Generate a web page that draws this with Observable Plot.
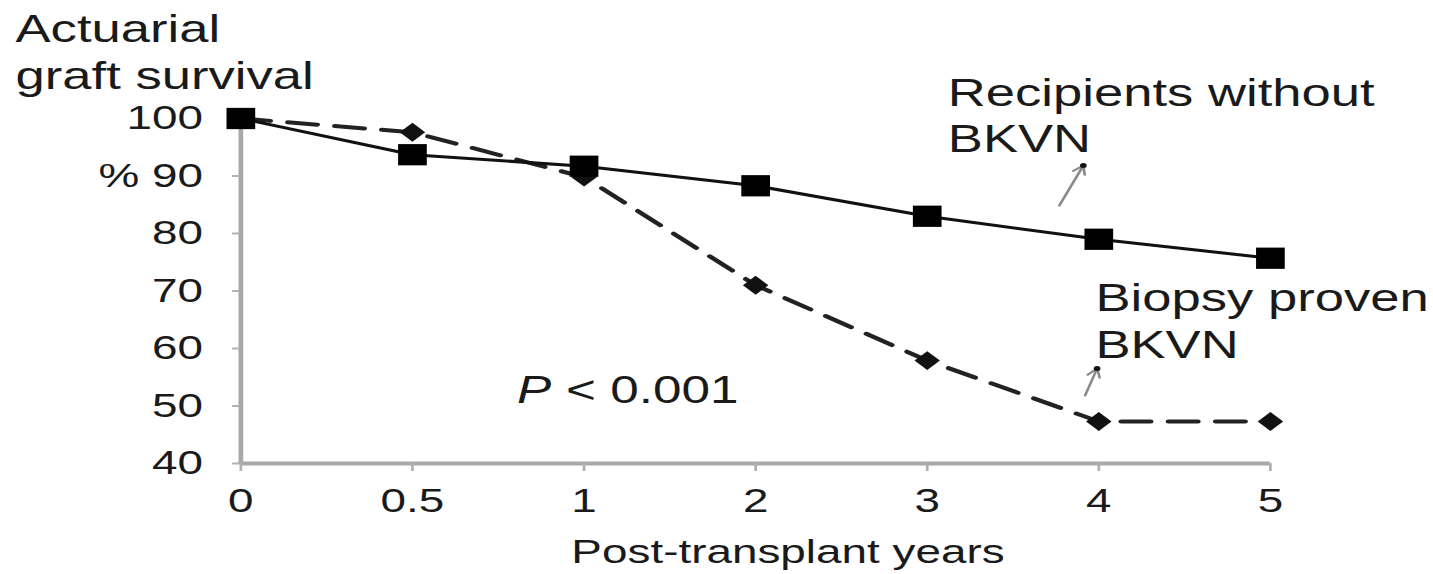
<!DOCTYPE html>
<html><head><meta charset="utf-8">
<script src="https://cdn.jsdelivr.net/npm/d3@7"></script>
<script src="https://cdn.jsdelivr.net/npm/@observablehq/plot@0.6"></script>
<style>html,body{margin:0;padding:0;background:#fff;overflow:hidden}</style>
</head><body><div id="chart"></div>
<script>
// ---- data ----
const years = ["0", "0.5", "1", "2", "3", "4", "5"];
const withoutBKVN = [100, 93.7, 91.7, 88.3, 83.0, 79.0, 75.7];
const biopsyBKVN = [100, 97.6, 89.8, 71.0, 57.9, 47.3, 47.3];
const yTicks = [40, 50, 60, 70, 80, 90, 100];

const solid = years.map((yr, i) => ({i, year: yr, value: withoutBKVN[i]}));
const dashed = years.map((yr, i) => ({i, year: yr, value: biopsyBKVN[i]}));

// the reference is horizontally stretched; draw at natural width, then stretch the SVG
const W = 1062, H = 574, OUT_W = 1433;
const ink = "#1a1a1a";
const font = "'Liberation Sans', Arial, Helvetica, sans-serif";

const plot = Plot.plot({
  width: W, height: H,
  marginLeft: 178, marginRight: 121, marginTop: 118, marginBottom: 111,
  style: {fontFamily: font, fontSize: "34px", color: ink, background: "#fff"},
  x: {type: "linear", domain: [0, years.length - 1]},
  y: {domain: [40, 100]},
  marks: [
    Plot.ruleX([0], {stroke: "#a8a8a8", strokeWidth: 3.5}),
    Plot.ruleY([40], {stroke: "#a8a8a8", strokeWidth: 4}),
    Plot.axisX({ticks: years.map((_, i) => i), tickFormat: i => years[i], tickSize: 8, tickPadding: 16,
                stroke: "#b0b0b0", strokeWidth: 2, label: null, fontSize: 34}),
    Plot.axisY({ticks: yTicks, tickFormat: d => d === 90 ? "% 90" : String(d), tickSize: 6, tickPadding: 22,
                stroke: "#b0b0b0", strokeWidth: 2, label: null, fontSize: 34}),
    // biopsy proven BKVN (dashed, diamonds)
    Plot.line(dashed, {x: "i", y: "value", stroke: "#222", strokeWidth: 4, strokeDasharray: "22,13"}),
    Plot.dot(dashed, {x: "i", y: "value", symbol: "diamond2", r: 8.5, fill: "#111"}),
    // recipients without BKVN (solid, squares)
    Plot.line(solid, {x: "i", y: "value", stroke: "#111", strokeWidth: 3}),
    Plot.dot(solid, {x: "i", y: "value", symbol: "square", r: 12, fill: "#000"}),
    // annotations
    Plot.text(["Actuarial\ngraft survival"], {frameAnchor: "top-left", textAnchor: "start", lineAnchor: "bottom",
               dx: -167, dy: -30, fontSize: 39, lineHeight: 1.18, fill: ink}),
    Plot.text(["Post-transplant years"], {frameAnchor: "bottom", lineAnchor: "bottom", dx: 24, dy: 99,
               fontSize: 34, fill: ink}),
    Plot.text(["Recipients without\nBKVN"], {x: 4.12, y: 94.09, textAnchor: "start", lineAnchor: "bottom",
               fontSize: 39, lineHeight: 1.18, fill: ink}),
    Plot.text(["Biopsy proven\nBKVN"], {x: 4.98, y: 58.43, textAnchor: "start", lineAnchor: "bottom",
               fontSize: 39, lineHeight: 1.2, fill: ink}),
    Plot.text(["P"], {x: 1.61, y: 50.6, textAnchor: "start", lineAnchor: "bottom", fontSize: 38,
               fontStyle: "italic", fill: ink}),
    Plot.text(["< 0.001"], {x: 1.895, y: 50.6, textAnchor: "start", lineAnchor: "bottom", fontSize: 38, fill: ink}),
    Plot.arrow([0], {x1: 4.77, y1: 84.87, x2: 4.91, y2: 91.83, stroke: "#8a8a8a", strokeWidth: 2, headLength: 7}),
    Plot.arrow([0], {x1: 4.92, y1: 51.83, x2: 4.99, y2: 56.52, stroke: "#8a8a8a", strokeWidth: 2, headLength: 7}),
    Plot.dot([[4.91, 91.83], [4.99, 56.52]], {x: d => d[0], y: d => d[1], r: 2.5, fill: "#111"})
  ]
});

plot.setAttribute("width", OUT_W);
plot.setAttribute("height", H);
plot.setAttribute("preserveAspectRatio", "none");
plot.style.width = OUT_W + "px";
plot.style.height = H + "px";
plot.style.maxWidth = "none";
document.getElementById("chart").append(plot);
</script>
</body></html>
